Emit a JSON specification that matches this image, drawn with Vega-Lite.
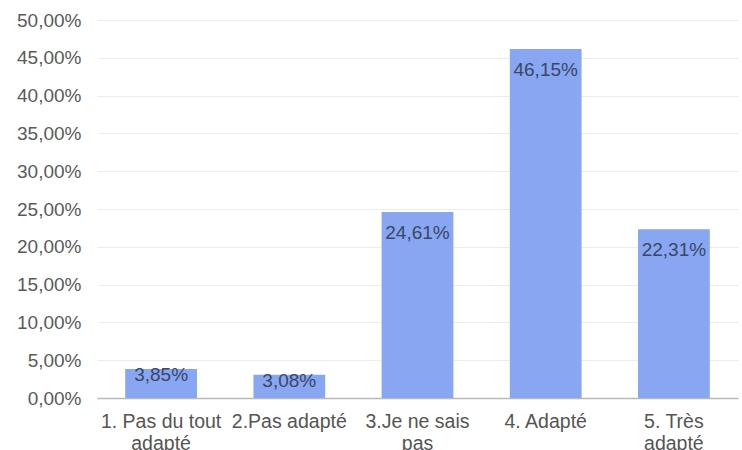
{
  "$schema": "https://vega.github.io/schema/vega-lite/v6.json",
  "autosize": "none",
  "width": 641,
  "height": 378,
  "padding": {"left": 97, "top": 20, "right": 4, "bottom": 52},
  "background": "white",
  "data": {
    "values": [
      {"categorie": "1. Pas du tout adapté", "valeur": 0.0385},
      {"categorie": "2.Pas adapté", "valeur": 0.0308},
      {"categorie": "3.Je ne sais pas", "valeur": 0.2461},
      {"categorie": "4. Adapté", "valeur": 0.4615},
      {"categorie": "5. Très adapté", "valeur": 0.2231}
    ]
  },
  "transform": [
    {"calculate": "replace(format(datum.valeur, '.2%'), '.', ',')", "as": "etiquette"}
  ],
  "encoding": {
    "x": {
      "field": "categorie",
      "type": "nominal",
      "sort": null,
      "scale": {"paddingInner": 0.44, "paddingOuter": 0.22},
      "axis": {
        "title": null,
        "labelAngle": 0,
        "labelFont": "Liberation Sans",
        "labelFontSize": 19.5,
        "labelColor": "#555555",
        "labelPadding": 14,
        "labelLineHeight": 22,
        "labelLimit": 200,
        "ticks": false,
        "domainColor": "#b9b9b9",
        "domainWidth": 1.5,
        "labelExpr": "datum.label == '1. Pas du tout adapté' ? ['1. Pas du tout', 'adapté'] : datum.label == '3.Je ne sais pas' ? ['3.Je ne sais', 'pas'] : datum.label == '5. Très adapté' ? ['5. Très', 'adapté'] : datum.label"
      }
    },
    "y": {
      "field": "valeur",
      "type": "quantitative",
      "scale": {"domain": [0, 0.5], "nice": false},
      "axis": {
        "title": null,
        "values": [0, 0.05, 0.1, 0.15, 0.2, 0.25, 0.3, 0.35, 0.4, 0.45, 0.5],
        "labelExpr": "replace(format(datum.value, '.2%'), '.', ',')",
        "labelFont": "Liberation Sans",
        "labelFontSize": 19,
        "labelColor": "#5a5a5a",
        "labelPadding": 16,
        "domain": false,
        "ticks": false,
        "gridColor": "#ececec",
        "gridWidth": 1
      }
    }
  },
  "layer": [
    {"mark": {"type": "bar", "color": "#88a6f2"}},
    {
      "transform": [{"filter": "datum.valeur >= 0.1"}],
      "mark": {"type": "text", "baseline": "top", "align": "center", "dy": 12, "font": "Liberation Sans", "fontSize": 19, "color": "#3a4766"},
      "encoding": {"text": {"field": "etiquette"}}
    },
    {
      "transform": [{"filter": "datum.valeur < 0.1"}],
      "mark": {"type": "text", "baseline": "top", "align": "center", "dy": -3, "font": "Liberation Sans", "fontSize": 19, "color": "#3a4766"},
      "encoding": {"text": {"field": "etiquette"}}
    }
  ],
  "config": {"view": {"stroke": null}}
}
